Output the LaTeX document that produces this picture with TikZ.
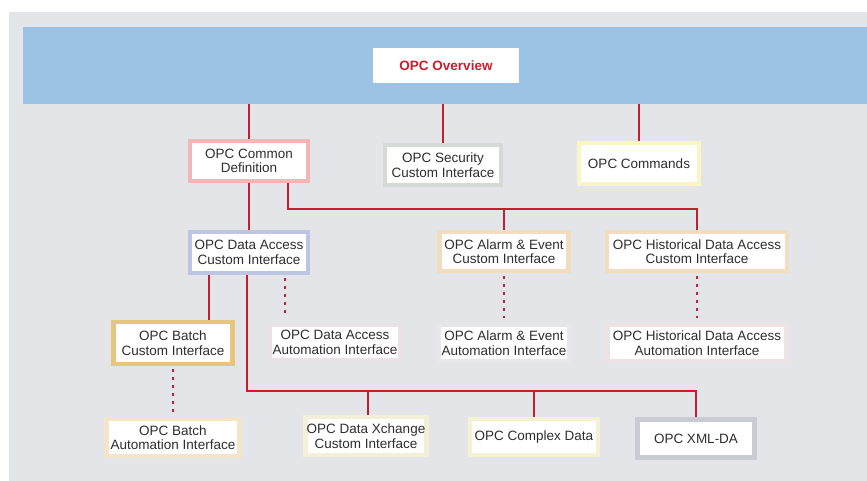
\documentclass[tikz,border=0pt]{standalone}
\usepackage{fontspec}
\setmainfont{Liberation Sans}
\usetikzlibrary{backgrounds}
\pgfdeclarelayer{links}
\pgfsetlayers{background,links,main}

\definecolor{pagegray}{HTML}{E3E5E9}
\definecolor{bandblue}{HTML}{9CC3E6}
\definecolor{linkred}{HTML}{C81E2C}
\definecolor{txtgray}{HTML}{2E2E2E}
\definecolor{cdefrim}{HTML}{F2B6B6}
\definecolor{secrim}{HTML}{D5DAD4}
\definecolor{cmdrim}{HTML}{FAF5C4}
\definecolor{darim}{HTML}{BCC6E2}
\definecolor{tanrim}{HTML}{F2DDC0}
\definecolor{batchrim}{HTML}{E6C67C}
\definecolor{daautorim}{HTML}{E9E2E8}
\definecolor{aeautorim}{HTML}{E7E6EA}
\definecolor{hdaautorim}{HTML}{EDE3E4}
\definecolor{bautorim}{HTML}{F3E5CA}
\definecolor{xchrim}{HTML}{F4F0D8}
\definecolor{cplxrim}{HTML}{F4F2D2}
\definecolor{xmlrim}{HTML}{C9CDD3}

\tikzset{
  opcbox/.style={rectangle, fill=white, line width=4.5pt, inner sep=0pt,
    align=center, text=txtgray, font=\fontsize{13.5}{14.5}\selectfont},
  link/.style={draw=linkred, line width=2.6pt},
  dotlink/.style={draw=linkred, line width=2.6pt, dash pattern=on 3pt off 5pt,
    shorten <=3pt, shorten >=5pt}
}

\begin{document}
\begin{tikzpicture}[x=1pt, y=-1pt]
  %%%%% START %%%%%
  \useasboundingbox (0,0) rectangle (867,481);

  \begin{scope}[on background layer]
    \fill[pagegray] (9,12) rectangle (867,481);
    \fill[bandblue] (23,27) rectangle (867,104);
  \end{scope}
  \coordinate (bandfoot) at (0,104);

  \node[opcbox, fill=white, minimum width=146, minimum height=35, line width=0pt,
    text=linkred, font=\fontsize{13.5}{14.5}\selectfont\bfseries] (overview) at (446,65.5) {OPC Overview};

  % first row
  \node[opcbox, draw=cdefrim, minimum width=118, minimum height=40] (cdef) at (249,161) {OPC Common\\Definition};
  \node[opcbox, draw=secrim, minimum width=116, minimum height=40] (sec) at (443,165) {OPC Security\\Custom Interface};
  \node[opcbox, draw=cmdrim, minimum width=120, minimum height=41] (cmd) at (639,163.5) {OPC Commands};

  % custom interfaces
  \node[opcbox, draw=darim, minimum width=118, minimum height=41] (dacust) at (249,252.5) {OPC Data Access\\Custom Interface};
  \node[opcbox, draw=tanrim, minimum width=129, minimum height=39] (aecust) at (504,251.5) {OPC Alarm \& Event\\Custom Interface};
  \node[opcbox, draw=tanrim, minimum width=180, minimum height=39] (hdacust) at (697,251.5) {OPC Historical Data Access\\Custom Interface};
  \node[opcbox, draw=batchrim, minimum width=119, minimum height=42] (batchcust) at (173,343) {OPC Batch\\Custom Interface};

  % automation interfaces
  \node[opcbox, draw=daautorim, minimum width=131, minimum height=35] (daauto) at (335,342.5) {OPC Data Access\\Automation Interface};
  \node[opcbox, draw=aeautorim, minimum width=131, minimum height=36] (aeauto) at (504,343) {OPC Alarm \& Event\\Automation Interface};
  \node[opcbox, draw=hdaautorim, minimum width=179, minimum height=36] (hdaauto) at (697,343) {OPC Historical Data Access\\Automation Interface};
  \node[opcbox, draw=bautorim, minimum width=133, minimum height=37] (batchauto) at (173,437.5) {OPC Batch\\Automation Interface};

  % bottom row
  \node[opcbox, draw=xchrim, minimum width=121, minimum height=38] (xchange) at (366,436) {OPC Data Xchange\\Custom Interface};
  \node[opcbox, draw=cplxrim, minimum width=128, minimum height=36] (complex) at (534,437) {OPC Complex Data};
  \node[opcbox, draw=xmlrim, line width=5pt, minimum width=117, minimum height=38] (xmlda) at (696,438.5) {OPC XML-DA};

  \coordinate (ajoin) at (0,209);
  \coordinate (bjoin) at (0,391);

  \begin{pgfonlayer}{links}
    \draw[link] (cdef |- bandfoot) -- (cdef);
    \draw[link] (sec |- bandfoot) -- (sec);
    \draw[link] (cmd |- bandfoot) -- (cmd);

    \draw[link] (cdef) -- (dacust);
    \draw[link] ([xshift=39pt]cdef.center) |- (ajoin -| hdacust) -- (hdacust);
    \draw[link] (aecust) -- (aecust |- ajoin);

    \draw[link] ([xshift=-40pt]dacust.center) -- ([xshift=-40pt]dacust.center |- batchcust.center);
    \draw[link] ([xshift=-2pt]dacust.center) |- (bjoin -| xmlda) -- (xmlda);
    \draw[link] ([xshift=2pt]xchange.center) -- ([xshift=2pt]xchange.center |- bjoin);
    \draw[link] (complex) -- (complex |- bjoin);
  \end{pgfonlayer}

  \draw[dotlink] ([xshift=36pt]dacust.south) -- ([xshift=36pt]dacust.south |- daauto.north);
  \draw[dotlink] (aecust.south) -- (aeauto.north);
  \draw[dotlink] (hdacust.south) -- (hdaauto.north);
  \draw[dotlink] (batchcust.south) -- (batchauto.north);
  %%%%% END %%%%%
\end{tikzpicture}
\end{document}
